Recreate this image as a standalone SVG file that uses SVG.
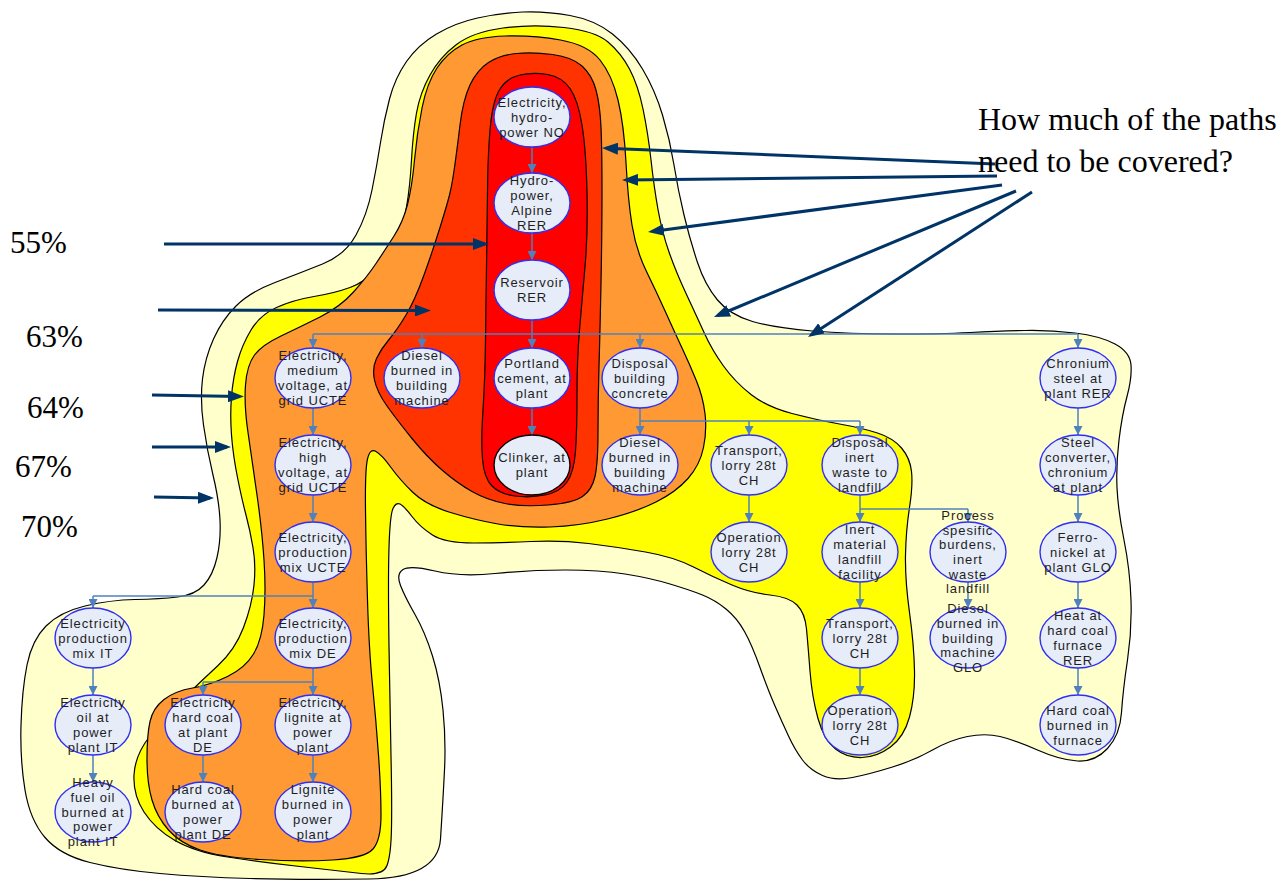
<svg xmlns="http://www.w3.org/2000/svg" width="1285" height="881" viewBox="0 0 1285 881">
  <style>
    .zone { stroke: #000; stroke-width: 1.2; }
    .z70 { fill: #FFFFCC; }
    .z67 { fill: #FFFF00; }
    .z64 { fill: #FF9933; }
    .z63 { fill: #FF3300; }
    .z55 { fill: #FF0000; }
    .node ellipse { fill: #E6ECF8; stroke: #2F2FF5; stroke-width: 1.4; }
    .node text { font-family: "Liberation Sans", Arial, sans-serif; font-size: 13px; letter-spacing: 0.9px; fill: #1E1E1E; text-anchor: middle; }
    .link { stroke: #4F81BD; stroke-width: 1.5; fill: none; }
    .pointer { stroke: #003366; stroke-width: 3; fill: none; }
    .pct { font-family: "Liberation Serif", "Times New Roman", serif; font-size: 31px; fill: #000; }
    .question { font-family: "Liberation Serif", "Times New Roman", serif; font-size: 32px; fill: #000; }
  </style>
  <defs>
    <marker id="tip" markerUnits="userSpaceOnUse" markerWidth="9" markerHeight="9" refX="9" refY="4.5" orient="auto">
      <path d="M0,0 L9,4.5 L0,9 z" fill="#4F81BD"/>
    </marker>
    <marker id="bigtip" markerUnits="userSpaceOnUse" markerWidth="16" markerHeight="12" refX="12" refY="6" orient="auto">
      <path d="M0,0 L16,6 L0,12 z" fill="#003366"/>
    </marker>
  </defs>
  <rect width="1285" height="881" fill="#FFFFFF"/>

  <!-- coverage zones, outermost first -->
  <g id="zones">
    <path id="zone70" class="zone z70" d="M522.5,12 Q545,11 570,15.5 Q595,20 612.5,34 Q630,48 642.5,69 Q655,90 662.5,115 Q670,140 674,165 Q678,190 684,215 Q690,240 697.5,262.5 Q705,285 717.5,300 Q730,315 752.5,321.5 Q775,328 812.5,331 Q850,334 895,334 Q940,334 970,332.5 Q1000,331 1025,330.5 Q1050,330 1075,333 Q1100,336 1115,344 Q1130,352 1131,365 Q1132,378 1127,396.5 Q1122,415 1119,440 Q1116,465 1117,487.5 Q1118,510 1124,540 Q1130,570 1131,600 Q1132,630 1127.5,660 Q1123,690 1121.5,712.5 Q1120,735 1107.5,748.5 Q1095,762 1077.5,761 Q1060,760 1037.5,750 Q1015,740 1000,736.5 Q985,733 967.5,736.5 Q950,740 932.5,750 Q915,760 892.5,767 Q870,774 852.5,777.5 Q835,781 822.5,775.5 Q810,770 802.5,760 Q795,750 788.5,736 Q782,722 775,706 Q768,690 760,667.5 Q752,645 744.5,631.5 Q737,618 726,609 Q715,600 702.5,595 Q690,590 670,584 Q650,578 625,574 Q600,570 565,570 Q530,570 495,573.5 Q460,577 435,571 Q410,565 403,569.5 Q396,574 400.5,585.5 Q405,597 415,614.5 Q425,632 432.5,656 Q440,680 443,710 Q446,740 444.5,770 Q443,800 440.5,839 Q438,878 369,879 Q300,880 250,878.5 Q200,877 160,873.5 Q120,870 90,862.5 Q60,855 45,837.5 Q30,820 25,790 Q20,760 21,725 Q22,690 27,665 Q32,640 46,626 Q60,612 85,606 Q110,600 135,599.5 Q160,599 177.5,597 Q195,595 204,585 Q213,575 217,557.5 Q221,540 220,520 Q219,500 213,475 Q207,450 203.5,425 Q200,400 202.5,379 Q205,358 213.5,339 Q222,320 236,306 Q250,292 275,282.5 Q300,273 322.5,264 Q345,255 356,235 Q367,215 372,190 Q377,165 380.5,142.5 Q384,120 389.5,99 Q395,78 406.5,61.5 Q418,45 436.5,34 Q455,23 477.5,18 Q500,13 522.5,12 Z"/>
    <path id="zone67" class="zone z67" d="M503,28 Q533,24 564,27.5 Q595,31 608,42 Q621,53 629.5,69 Q638,85 643,109 Q648,133 651,160 Q654,187 658,209.5 Q662,232 669,252 Q676,272 686.5,294.5 Q697,317 704.5,333.5 Q712,350 723.5,366 Q735,382 751,394.5 Q767,407 792,413.5 Q817,420 839.5,424 Q862,428 877.5,433 Q893,438 901.5,448 Q910,458 911.5,471.5 Q913,485 909.5,507.5 Q906,530 905.5,555 Q905,580 909.5,612.5 Q914,645 914.5,671 Q915,697 909.5,717 Q904,737 890.5,747 Q877,757 862,757.5 Q847,758 835.5,749 Q824,740 818,718.5 Q812,697 810,671 Q808,645 806.5,629 Q805,613 797,605 Q789,597 770,595 Q751,593 732,585 Q713,577 693.5,567 Q674,557 645.5,552 Q617,547 588.5,543.5 Q560,540 531,541.5 Q502,543 473.5,543 Q445,543 432.5,535 Q420,527 412,516.5 Q404,506 400,504 Q396,502 393,508.5 Q390,515 389,547.5 Q388,580 389,646.5 Q390,713 391,756.5 Q392,800 391.5,827.5 Q391,855 387,865.5 Q383,876 361.5,873.5 Q340,871 300,866.5 Q260,862 227.5,857 Q195,852 175,840.5 Q155,829 144,812 Q133,795 134,775 Q135,755 150,736 Q165,717 182.5,699.5 Q200,682 217.5,666 Q235,650 243.5,627.5 Q252,605 254,585 Q256,565 253,547.5 Q250,530 246,515 Q242,500 237.5,477.5 Q233,455 231.5,435 Q230,415 231.5,396.5 Q233,378 237.5,361.5 Q242,345 251,330 Q260,315 276.5,307.5 Q293,300 314,296.5 Q335,293 350,287.5 Q365,282 378.5,268.5 Q392,255 397.5,241 Q403,227 406.5,207 Q410,187 411.5,160 Q413,133 416.5,113 Q420,93 430,75 Q440,57 456.5,44.5 Q473,32 503,28 Z"/>
    <path id="zone64" class="zone z64" d="M505,36 Q533,35 560.5,40 Q588,45 600,60 Q612,75 618,100 Q624,125 626,162.5 Q628,200 632,225 Q636,250 646.5,271.5 Q657,293 666,313 Q675,333 682.5,349 Q690,365 696.5,381 Q703,397 705,413.5 Q707,430 703.5,447.5 Q700,465 688,478.5 Q676,492 656,502 Q636,512 607.5,519 Q579,526 550,527 Q521,528 498,524 Q475,520 450.5,512.5 Q426,505 413,492.5 Q400,480 391,467.5 Q382,455 376,451.5 Q370,448 367.5,459 Q365,470 365.5,510 Q366,550 367.5,600 Q369,650 372.5,685 Q376,720 378.5,755 Q381,790 381,815 Q381,840 373,849 Q365,858 332.5,860 Q300,862 260,859.5 Q220,857 200,850 Q180,843 168.5,830 Q157,817 152,800 Q147,783 147,759 Q147,735 150,721.5 Q153,708 164,699.5 Q175,691 192.5,688 Q210,685 227.5,676.5 Q245,668 253.5,654 Q262,640 264,615 Q266,590 264,560 Q262,530 257,495 Q252,460 248,432.5 Q244,405 245.5,385 Q247,365 254.5,355 Q262,345 281,336 Q300,327 320,317 Q340,307 353.5,292 Q367,277 376,263.5 Q385,250 394,236 Q403,222 407.5,204.5 Q412,187 414.5,160 Q417,133 422,108 Q427,83 437,68 Q447,53 462,45 Q477,37 505,36 Z"/>
    <path id="zone63" class="zone z63" d="M516.5,53.5 Q533,52 552.5,54.5 Q572,57 582,66 Q592,75 596,90 Q600,105 601,127.5 Q602,150 602,191.5 Q602,233 601,283 Q600,333 599,366.5 Q598,400 598,431.5 Q598,463 595,476.5 Q592,490 582.5,496.5 Q573,503 548,505 Q523,507 505,503.5 Q487,500 472,491.5 Q457,483 442,470 Q427,457 412,438.5 Q397,420 387,406 Q377,392 374.5,380 Q372,368 376.5,358.5 Q381,349 389,339.5 Q397,330 406,315 Q415,300 424,275 Q433,250 440,227.5 Q447,205 449.5,195 Q452,185 454.5,167.5 Q457,150 460,125 Q463,100 470,85 Q477,70 488.5,62.5 Q500,55 516.5,53.5 Z"/>
    <path id="zone55" class="zone z55" d="M520,75 Q533,72 547.5,74.5 Q562,77 570,88.5 Q578,100 582,125 Q586,150 587,191.5 Q588,233 585,266.5 Q582,300 579.5,330 Q577,360 577,395 Q577,430 575.5,451 Q574,472 567,482 Q560,492 545,495 Q530,498 515,496 Q500,494 492,486 Q484,478 482.5,459 Q481,440 483,410 Q485,380 485.5,340 Q486,300 486.5,266.5 Q487,233 487.5,191.5 Q488,150 490.5,125 Q493,100 500,89 Q507,78 520,75 Z"/>
  </g>

  <!-- process connectors -->
  <g id="connectors">
    <path class="link" d="M532,147 V173" marker-end="url(#tip)"/>
    <path class="link" d="M532,233 V260" marker-end="url(#tip)"/>
    <path class="link" d="M532,320 V348" marker-end="url(#tip)"/>
    <path class="link" d="M313,334 H1078"/>
    <path class="link" d="M313,334 V348" marker-end="url(#tip)"/>
    <path class="link" d="M422,334 V348" marker-end="url(#tip)"/>
    <path class="link" d="M640,334 V348" marker-end="url(#tip)"/>
    <path class="link" d="M1078,334 V348" marker-end="url(#tip)"/>
    <path class="link" d="M532,408 V435" marker-end="url(#tip)"/>
    <path class="link" d="M640,408 V435" marker-end="url(#tip)"/>
    <path class="link" d="M640,421 H860"/>
    <path class="link" d="M749,421 V435" marker-end="url(#tip)"/>
    <path class="link" d="M860,421 V435" marker-end="url(#tip)"/>
    <path class="link" d="M749,495 V522" marker-end="url(#tip)"/>
    <path class="link" d="M860,495 V522" marker-end="url(#tip)"/>
    <path class="link" d="M860,509 H968"/>
    <path class="link" d="M968,509 V522" marker-end="url(#tip)"/>
    <path class="link" d="M860,582 V608" marker-end="url(#tip)"/>
    <path class="link" d="M860,668 V695" marker-end="url(#tip)"/>
    <path class="link" d="M968,582 V608" marker-end="url(#tip)"/>
    <path class="link" d="M1078,408 V435" marker-end="url(#tip)"/>
    <path class="link" d="M1078,495 V522" marker-end="url(#tip)"/>
    <path class="link" d="M1078,582 V608" marker-end="url(#tip)"/>
    <path class="link" d="M1078,668 V695" marker-end="url(#tip)"/>
    <path class="link" d="M313,408 V435" marker-end="url(#tip)"/>
    <path class="link" d="M313,495 V522" marker-end="url(#tip)"/>
    <path class="link" d="M313,582 V608" marker-end="url(#tip)"/>
    <path class="link" d="M93,596 H313"/>
    <path class="link" d="M93,596 V608" marker-end="url(#tip)"/>
    <path class="link" d="M313,668 V695" marker-end="url(#tip)"/>
    <path class="link" d="M203,682 H313"/>
    <path class="link" d="M203,682 V695" marker-end="url(#tip)"/>
    <path class="link" d="M313,755 V782" marker-end="url(#tip)"/>
    <path class="link" d="M203,755 V782" marker-end="url(#tip)"/>
    <path class="link" d="M93,668 V695" marker-end="url(#tip)"/>
    <path class="link" d="M93,755 V782" marker-end="url(#tip)"/>
  </g>

  <!-- process nodes -->
  <g id="n-hydro-no" class="node"><ellipse cx="532" cy="117" rx="38" ry="30"/><text><tspan x="532" y="106.5">Electricity,</tspan><tspan x="532" y="121.5">hydro-</tspan><tspan x="532" y="136.5">power NO</tspan></text></g>
  <g id="n-hydro-alpine" class="node"><ellipse cx="532" cy="203" rx="38" ry="30"/><text><tspan x="532" y="185">Hydro-</tspan><tspan x="532" y="200">power,</tspan><tspan x="532" y="215">Alpine</tspan><tspan x="532" y="230">RER</tspan></text></g>
  <g id="n-reservoir" class="node"><ellipse cx="532" cy="290" rx="38" ry="30"/><text><tspan x="532" y="287">Reservoir</tspan><tspan x="532" y="302">RER</tspan></text></g>
  <g id="n-portland" class="node"><ellipse cx="532" cy="378" rx="38" ry="30"/><text><tspan x="532" y="367.5">Portland</tspan><tspan x="532" y="382.5">cement, at</tspan><tspan x="532" y="397.5">plant</tspan></text></g>
  <g id="n-clinker" class="node"><ellipse cx="532" cy="465" rx="38" ry="30" style="stroke:#000"/><text><tspan x="532" y="462">Clinker, at</tspan><tspan x="532" y="477">plant</tspan></text></g>

  <g id="n-elec-mv" class="node"><ellipse cx="313" cy="378" rx="38" ry="30"/><text><tspan x="313" y="360">Electricity,</tspan><tspan x="313" y="375">medium</tspan><tspan x="313" y="390">voltage, at</tspan><tspan x="313" y="405">grid UCTE</tspan></text></g>
  <g id="n-elec-hv" class="node"><ellipse cx="313" cy="465" rx="38" ry="30"/><text><tspan x="313" y="447">Electricity,</tspan><tspan x="313" y="462">high</tspan><tspan x="313" y="477">voltage, at</tspan><tspan x="313" y="492">grid UCTE</tspan></text></g>
  <g id="n-mix-ucte" class="node"><ellipse cx="313" cy="552" rx="38" ry="30"/><text><tspan x="313" y="541.5">Electricity,</tspan><tspan x="313" y="556.5">production</tspan><tspan x="313" y="571.5">mix UCTE</tspan></text></g>
  <g id="n-mix-de" class="node"><ellipse cx="313" cy="638" rx="38" ry="30"/><text><tspan x="313" y="627.5">Electricity,</tspan><tspan x="313" y="642.5">production</tspan><tspan x="313" y="657.5">mix DE</tspan></text></g>
  <g id="n-lignite-plant" class="node"><ellipse cx="313" cy="725" rx="38" ry="30"/><text><tspan x="313" y="707">Electricity,</tspan><tspan x="313" y="722">lignite at</tspan><tspan x="313" y="737">power</tspan><tspan x="313" y="752">plant</tspan></text></g>
  <g id="n-lignite-burned" class="node"><ellipse cx="313" cy="812" rx="38" ry="30"/><text><tspan x="313" y="794">Lignite</tspan><tspan x="313" y="809">burned in</tspan><tspan x="313" y="824">power</tspan><tspan x="313" y="839">plant</tspan></text></g>
  <g id="n-hardcoal-plant" class="node"><ellipse cx="203" cy="725" rx="38" ry="30"/><text><tspan x="203" y="707">Electricity</tspan><tspan x="203" y="722">hard coal</tspan><tspan x="203" y="737">at plant</tspan><tspan x="203" y="752">DE</tspan></text></g>
  <g id="n-hardcoal-burned" class="node"><ellipse cx="203" cy="812" rx="38" ry="30"/><text><tspan x="203" y="794">Hard coal</tspan><tspan x="203" y="809">burned at</tspan><tspan x="203" y="824">power</tspan><tspan x="203" y="839">plant DE</tspan></text></g>
  <g id="n-mix-it" class="node"><ellipse cx="93" cy="638" rx="38" ry="30"/><text><tspan x="93" y="627.5">Electricity</tspan><tspan x="93" y="642.5">production</tspan><tspan x="93" y="657.5">mix IT</tspan></text></g>
  <g id="n-oil-it" class="node"><ellipse cx="93" cy="725" rx="38" ry="30"/><text><tspan x="93" y="707">Electricity</tspan><tspan x="93" y="722">oil at</tspan><tspan x="93" y="737">power</tspan><tspan x="93" y="752">plant IT</tspan></text></g>
  <g id="n-hfo-it" class="node"><ellipse cx="93" cy="812" rx="38" ry="30"/><text><tspan x="93" y="787.1">Heavy</tspan><tspan x="93" y="801.8">fuel oil</tspan><tspan x="93" y="816.5">burned at</tspan><tspan x="93" y="831.2">power</tspan><tspan x="93" y="845.9">plant IT</tspan></text></g>

  <g id="n-diesel-a" class="node"><ellipse cx="422" cy="378" rx="38" ry="30"/><text><tspan x="422" y="360">Diesel</tspan><tspan x="422" y="375">burned in</tspan><tspan x="422" y="390">building</tspan><tspan x="422" y="405">machine</tspan></text></g>
  <g id="n-disposal-concrete" class="node"><ellipse cx="640" cy="378" rx="38" ry="30"/><text><tspan x="640" y="367.5">Disposal</tspan><tspan x="640" y="382.5">building</tspan><tspan x="640" y="397.5">concrete</tspan></text></g>
  <g id="n-diesel-b" class="node"><ellipse cx="640" cy="465" rx="38" ry="30"/><text><tspan x="640" y="447">Diesel</tspan><tspan x="640" y="462">burned in</tspan><tspan x="640" y="477">building</tspan><tspan x="640" y="492">machine</tspan></text></g>
  <g id="n-transport-a" class="node"><ellipse cx="749" cy="465" rx="38" ry="30"/><text><tspan x="749" y="454.5">Transport,</tspan><tspan x="749" y="469.5">lorry 28t</tspan><tspan x="749" y="484.5">CH</tspan></text></g>
  <g id="n-operation-a" class="node"><ellipse cx="749" cy="552" rx="38" ry="30"/><text><tspan x="749" y="541.5">Operation</tspan><tspan x="749" y="556.5">lorry 28t</tspan><tspan x="749" y="571.5">CH</tspan></text></g>
  <g id="n-disposal-inert" class="node"><ellipse cx="860" cy="465" rx="38" ry="30"/><text><tspan x="860" y="447">Disposal</tspan><tspan x="860" y="462">inert</tspan><tspan x="860" y="477">waste to</tspan><tspan x="860" y="492">landfill</tspan></text></g>
  <g id="n-inert-landfill" class="node"><ellipse cx="860" cy="552" rx="38" ry="30"/><text><tspan x="860" y="534">Inert</tspan><tspan x="860" y="549">material</tspan><tspan x="860" y="564">landfill</tspan><tspan x="860" y="579">facility</tspan></text></g>
  <g id="n-transport-b" class="node"><ellipse cx="860" cy="638" rx="38" ry="30"/><text><tspan x="860" y="627.5">Transport,</tspan><tspan x="860" y="642.5">lorry 28t</tspan><tspan x="860" y="657.5">CH</tspan></text></g>
  <g id="n-operation-b" class="node"><ellipse cx="860" cy="725" rx="38" ry="30"/><text><tspan x="860" y="714.5">Operation</tspan><tspan x="860" y="729.5">lorry 28t</tspan><tspan x="860" y="744.5">CH</tspan></text></g>
  <g id="n-process-burdens" class="node"><ellipse cx="968" cy="552" rx="38" ry="30"/><text><tspan x="968" y="519.8">Process</tspan><tspan x="968" y="534.5">spesific</tspan><tspan x="968" y="549.2">burdens,</tspan><tspan x="968" y="563.9">inert</tspan><tspan x="968" y="578.6">waste</tspan><tspan x="968" y="593.3">landfill</tspan></text></g>
  <g id="n-diesel-glo" class="node"><ellipse cx="968" cy="638" rx="38" ry="30"/><text><tspan x="968" y="613.1">Diesel</tspan><tspan x="968" y="627.8">burned in</tspan><tspan x="968" y="642.5">building</tspan><tspan x="968" y="657.2">machine</tspan><tspan x="968" y="671.9">GLO</tspan></text></g>

  <g id="n-chromium-steel" class="node"><ellipse cx="1078" cy="378" rx="38" ry="30"/><text><tspan x="1078" y="367.5">Chronium</tspan><tspan x="1078" y="382.5">steel at</tspan><tspan x="1078" y="397.5">plant RER</tspan></text></g>
  <g id="n-steel-converter" class="node"><ellipse cx="1078" cy="465" rx="38" ry="30"/><text><tspan x="1078" y="447">Steel</tspan><tspan x="1078" y="462">converter,</tspan><tspan x="1078" y="477">chronium</tspan><tspan x="1078" y="492">at plant</tspan></text></g>
  <g id="n-ferronickel" class="node"><ellipse cx="1078" cy="552" rx="38" ry="30"/><text><tspan x="1078" y="541.5">Ferro-</tspan><tspan x="1078" y="556.5">nickel at</tspan><tspan x="1078" y="571.5">plant GLO</tspan></text></g>
  <g id="n-heat-furnace" class="node"><ellipse cx="1078" cy="638" rx="38" ry="30"/><text><tspan x="1078" y="620">Heat at</tspan><tspan x="1078" y="635">hard coal</tspan><tspan x="1078" y="650">furnace</tspan><tspan x="1078" y="665">RER</tspan></text></g>
  <g id="n-hardcoal-furnace" class="node"><ellipse cx="1078" cy="725" rx="38" ry="30"/><text><tspan x="1078" y="714.5">Hard coal</tspan><tspan x="1078" y="729.5">burned in</tspan><tspan x="1078" y="744.5">furnace</tspan></text></g>

  <!-- coverage pointers -->
  <g id="pointers">
    <path class="pointer" d="M164,244 L485,244" marker-end="url(#bigtip)"/>
    <path class="pointer" d="M158,310 L427,310.5" marker-end="url(#bigtip)"/>
    <path class="pointer" d="M152,395 L240,396.5" marker-end="url(#bigtip)"/>
    <path class="pointer" d="M152,447 L227,447" marker-end="url(#bigtip)"/>
    <path class="pointer" d="M154,497 L210,498" marker-end="url(#bigtip)"/>
    <path class="pointer" d="M995,164 L606,148.2" marker-end="url(#bigtip)"/>
    <path class="pointer" d="M997,176 L626,180" marker-end="url(#bigtip)"/>
    <path class="pointer" d="M1002,185 L652,231.5" marker-end="url(#bigtip)"/>
    <path class="pointer" d="M1016,191 L717.7,315.5" marker-end="url(#bigtip)"/>
    <path class="pointer" d="M1032,192 L811.4,334.8" marker-end="url(#bigtip)"/>
  </g>

  <!-- labels -->
  <g id="labels">
    <text class="pct" x="10" y="253">55%</text>
    <text class="pct" x="26" y="347">63%</text>
    <text class="pct" x="27" y="418">64%</text>
    <text class="pct" x="15" y="477">67%</text>
    <text class="pct" x="21" y="537">70%</text>
    <text class="question" x="978" y="130">How much of the paths</text>
    <text class="question" x="978" y="172">need to be covered?</text>
  </g>
</svg>
